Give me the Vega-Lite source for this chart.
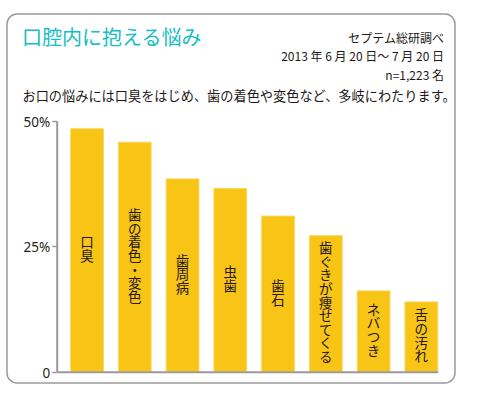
{
  "$schema": "https://vega.github.io/schema/vega-lite/v6.json",
  "width": 448,
  "height": 369,
  "autosize": {"type": "none"},
  "padding": {"left": 7, "top": 14, "right": 25, "bottom": 13},
  "background": "white",
  "title": {
    "text": "口腔内に抱える悩み",
    "anchor": "start",
    "frame": "group",
    "orient": "top",
    "offset": -35,
    "dx": 15,
    "font": "Noto Sans CJK JP",
    "fontSize": 20,
    "fontWeight": "normal",
    "color": "#14BEC2"
  },
  "data": {
    "values": [
      {"item": "口臭", "pct": 48.4},
      {"item": "歯の着色・変色", "pct": 45.7},
      {"item": "歯周病", "pct": 38.4},
      {"item": "虫歯", "pct": 36.5},
      {"item": "歯石", "pct": 31.0},
      {"item": "歯ぐきが痩せてくる", "pct": 27.1},
      {"item": "ネバつき", "pct": 16.1},
      {"item": "舌の汚れ", "pct": 13.9}
    ]
  },
  "transform": [
    {"calculate": "split(datum.item, '')", "as": "chars"},
    {"calculate": "datum.pct / 2 + (length(datum.chars) - 1) * 13.6 / 2 / 5.02", "as": "labelPos"}
  ],
  "encoding": {
    "x": {
      "field": "item",
      "type": "nominal",
      "sort": null,
      "scale": {"range": [49.7, 430.7], "paddingInner": 0.315, "paddingOuter": 0.1466, "align": 1},
      "axis": {
        "orient": "bottom",
        "offset": -11.3,
        "labels": false,
        "ticks": false,
        "domainColor": "#9a9a9a",
        "domainWidth": 2,
        "zindex": 1,
        "title": "お口の悩みには口臭をはじめ、歯の着色や変色など、多岐にわたります。",
        "titleX": 15,
        "titleY": -275,
        "titleAlign": "left",
        "titleAnchor": "start",
        "titleBaseline": "middle",
        "titleFont": "Noto Sans CJK JP",
        "titleFontSize": 13.2,
        "titleFontWeight": "normal",
        "titleColor": "#231815"
      }
    }
  },
  "layer": [
    {
      "mark": {"type": "bar", "color": "#F8C416", "stroke": "#FBD55A", "strokeWidth": 1},
      "encoding": {
        "y": {
          "field": "pct",
          "type": "quantitative",
          "scale": {"domain": [0, 50], "range": [357.7, 106.7], "nice": false, "zero": false},
          "axis": {
            "orient": "left",
            "offset": -49.7,
            "values": [0, 25, 50],
            "labelExpr": "datum.value === 0 ? '0' : datum.value + '%'",
            "labelFont": "Noto Sans",
            "labelFontSize": 13.5,
            "labelColor": "#231f20",
            "labelPadding": 2,
            "labelOffset": 1.5,
            "tickSize": 5,
            "tickColor": "#9a9a9a",
            "tickWidth": 1.5,
            "domainColor": "#9a9a9a",
            "domainWidth": 2,
            "grid": false,
            "zindex": 1,
            "title": ["セプテム総研調べ", "2013 年 6 月 20 日～ 7 月 20 日", "n=1,223 名"],
            "titleAngle": 0,
            "titleX": 386.8,
            "titleY": 24,
            "titleAlign": "right",
            "titleBaseline": "middle",
            "titleFont": "Noto Sans CJK JP",
            "titleFontSize": 12,
            "titleFontWeight": "normal",
            "titleColor": "#231815",
            "titleLineHeight": 18.5
          }
        }
      }
    },
    {
      "mark": {"type": "text", "baseline": "middle", "align": "center", "font": "Noto Sans CJK JP", "fontSize": 13.5, "lineHeight": 13.6, "color": "#231815"},
      "encoding": {
        "y": {"field": "labelPos", "type": "quantitative"},
        "text": {"field": "chars"}
      }
    }
  ],
  "config": {
    "view": {"stroke": "#9a9a9a", "strokeWidth": 1.5, "cornerRadius": 10, "fill": "white"}
  }
}
